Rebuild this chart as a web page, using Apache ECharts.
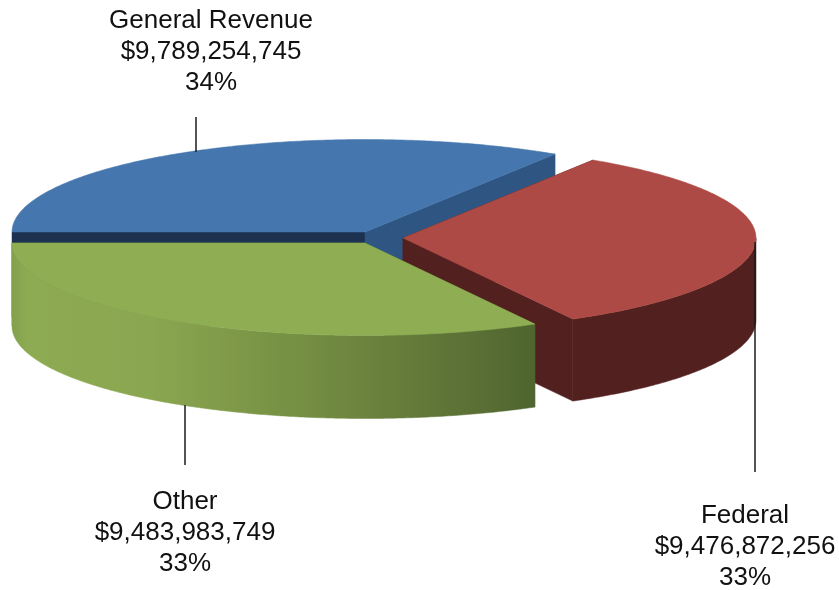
<!DOCTYPE html>
<html>
<head>
<meta charset="utf-8">
<style>html,body{margin:0;padding:0;background:#fff}#c{width:839px;height:590px}</style>
<script src="https://cdn.jsdelivr.net/npm/echarts@6/dist/echarts.min.js"></script>
</head>
<body>
<div id="c"></div>
<script>
// ---- data ----
const categories = ['General Revenue', 'Federal', 'Other'];
const amounts = [9789254745, 9476872256, 9483983749];
const percents = [34, 33, 33];

// ---- presentation (per slice, same order as categories) ----
const centres = [[365, 232], [403, 238], [365, 243]];
const depths = [85, 82, 83];
const radiusX = 353, radiusY = 92.5;
const topColours = ['#4577ae', '#ae4a45', '#8fae54'];
const sideColours = ['#2f5583', '#52201e', new echarts.graphic.LinearGradient(11, 0, 535, 0, [
  {offset: 0, color: '#829f4d'}, {offset: 0.03, color: '#8dab52'}, {offset: 0.27, color: '#8ba650'},
  {offset: 0.55, color: '#758f43'}, {offset: 0.75, color: '#667c3b'}, {offset: 1, color: '#4f652f'}
], true)];
const startCutColours = ['#1c3250', '#52201e', '#4f652f'];
const endCutColours = ['#2f5583', '#52201e', '#4f652f'];
const labelCentres = [[211, 21], [745, 516], [185, 502]];
const labelLineHeight = 31;
const leaders = [[196, 117, 152], [755, 242, 472], [185, 405, 465]];

const total = amounts.reduce((a, b) => a + b, 0);
const toAngle = v => echarts.number.linearMap(v, [0, total], [180, -180]);
const rad = d => d * Math.PI / 180;

function rim(c, deg, dy) {
  return [c[0] + radiusX * Math.cos(rad(deg)), c[1] - radiusY * Math.sin(rad(deg)) + (dy || 0)];
}
function arc(c, from, to, dy) {
  const n = Math.max(2, Math.ceil(Math.abs(to - from) / 0.5));
  const pts = [];
  for (let i = 0; i <= n; i++) pts.push(rim(c, from + (to - from) * i / n, dy));
  return pts;
}
function poly(points, fill) {
  return {type: 'polygon', shape: {points}, style: {fill, stroke: fill, lineWidth: 0.5}};
}

function renderItem(params, api) {
  const i = params.dataIndex;
  let before = 0;
  for (let k = 0; k < i; k++) before += amounts[k];
  const from = toAngle(before), to = toAngle(before + api.value(0));
  const c = centres[i], d = depths[i];
  const kids = [];
  // cut faces
  [[from, startCutColours[i]], [to, endCutColours[i]]].forEach(([a, col]) => {
    kids.push(poly([c, rim(c, a), rim(c, a, d), [c[0], c[1] + d]], col));
  });
  // outer wall (front half only)
  const a0 = Math.min(from, 0), a1 = Math.max(to, -180);
  if (a0 > a1) {
    kids.push(poly(arc(c, a0, a1).concat(arc(c, a1, a0, d)), sideColours[i]));
  }
  // top face
  kids.push(poly([c].concat(arc(c, from, to)), topColours[i]));
  return {type: 'group', children: kids};
}

function renderLabel(params, api) {
  const i = params.dataIndex;
  const p = labelCentres[i], l = leaders[i];
  const lines = [categories[i], '$' + api.value(0).toLocaleString('en-US'), percents[i] + '%'];
  const kids = [{
    type: 'line', shape: {x1: l[0], y1: l[1], x2: l[0], y2: l[2]},
    style: {stroke: '#1a1a1a', lineWidth: 1.5}
  }];
  lines.forEach((t, k) => kids.push({
    type: 'text',
    style: {
      text: t, x: p[0], y: p[1] + k * labelLineHeight, align: 'center', verticalAlign: 'middle',
      fill: '#111', fontFamily: '"Liberation Sans", Arial, sans-serif', fontSize: 26
    }
  }));
  return {type: 'group', children: kids};
}

const chart = echarts.init(document.getElementById('c'), null, {renderer: 'canvas'});
chart.setOption({
  animation: false,
  backgroundColor: '#fff',
  series: [
    {type: 'custom', coordinateSystem: 'none', renderItem, z: 2, silent: true,
     data: amounts.map((v, i) => ({name: categories[i], value: [v]}))},
    {type: 'custom', coordinateSystem: 'none', renderItem: renderLabel, z: 3, silent: true,
     data: amounts.map((v, i) => ({name: categories[i], value: [v]}))}
  ]
});
</script>
</body>
</html>
